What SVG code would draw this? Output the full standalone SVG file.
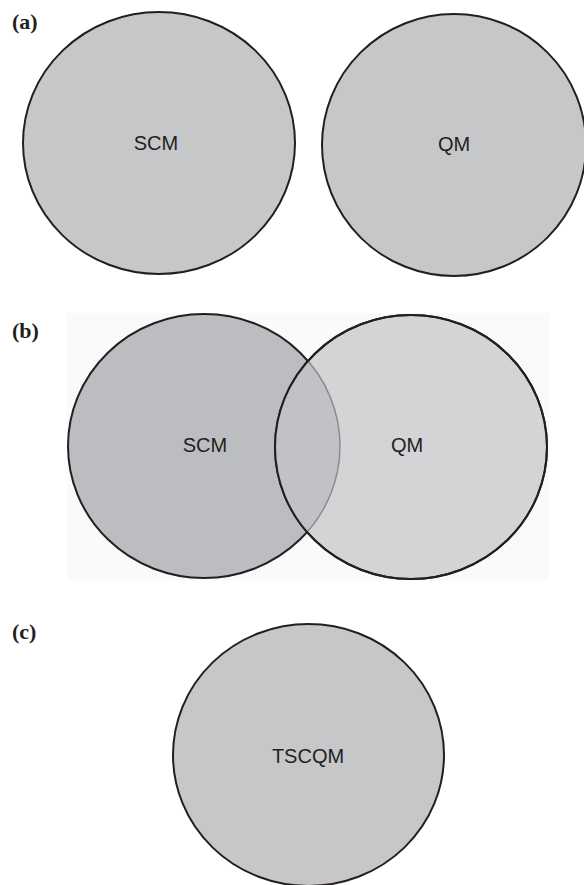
<svg xmlns="http://www.w3.org/2000/svg" width="584" height="885" viewBox="0 0 584 885">
<style>
.lbl{font-family:"Liberation Serif","Times New Roman",serif;font-weight:bold;font-size:22px;fill:#231f20}
.t{font-family:"Liberation Sans",Arial,sans-serif;font-size:20px;fill:#231f20;text-anchor:middle}
.c{fill:#c6c7c9;stroke:#231f20;stroke-width:2}
</style>
<defs>
<clipPath id="qmclip"><ellipse cx="411" cy="447" rx="136" ry="132"/></clipPath>
</defs>
<rect width="584" height="885" fill="#ffffff"/>
<text class="lbl" x="12" y="29">(a)</text>
<g id="scm-a">
<ellipse class="c" cx="159" cy="143" rx="136" ry="131"/>
<text class="t" x="156" y="150">SCM</text>
</g>
<g id="qm-a">
<ellipse class="c" cx="454" cy="145" rx="132" ry="131"/>
<text class="t" x="454" y="151">QM</text>
</g>
<text class="lbl" x="12" y="338">(b)</text>
<rect x="67" y="313" width="482" height="268" fill="#fafafa"/>
<g id="scm-b">
<ellipse cx="204" cy="446" rx="136" ry="132" fill="#bcbdc0" stroke="#231f20" stroke-width="2"/>
<text class="t" x="205" y="452">SCM</text>
</g>
<g id="qm-b">
<ellipse cx="411" cy="447" rx="136" ry="132" fill="#d4d4d6" stroke="#231f20" stroke-width="2"/>
<ellipse cx="204" cy="446" rx="136" ry="132" fill="#c1c2c5" stroke="#8c8c8e" stroke-width="1.5" clip-path="url(#qmclip)"/>
<ellipse cx="411" cy="447" rx="136" ry="132" fill="none" stroke="#231f20" stroke-width="2"/>
<text class="t" x="407" y="452">QM</text>
</g>
<text class="lbl" x="12" y="639">(c)</text>
<g id="tscqm">
<ellipse class="c" cx="308.5" cy="755" rx="135.5" ry="131"/>
<text class="t" x="308" y="763">TSCQM</text>
</g>
</svg>
